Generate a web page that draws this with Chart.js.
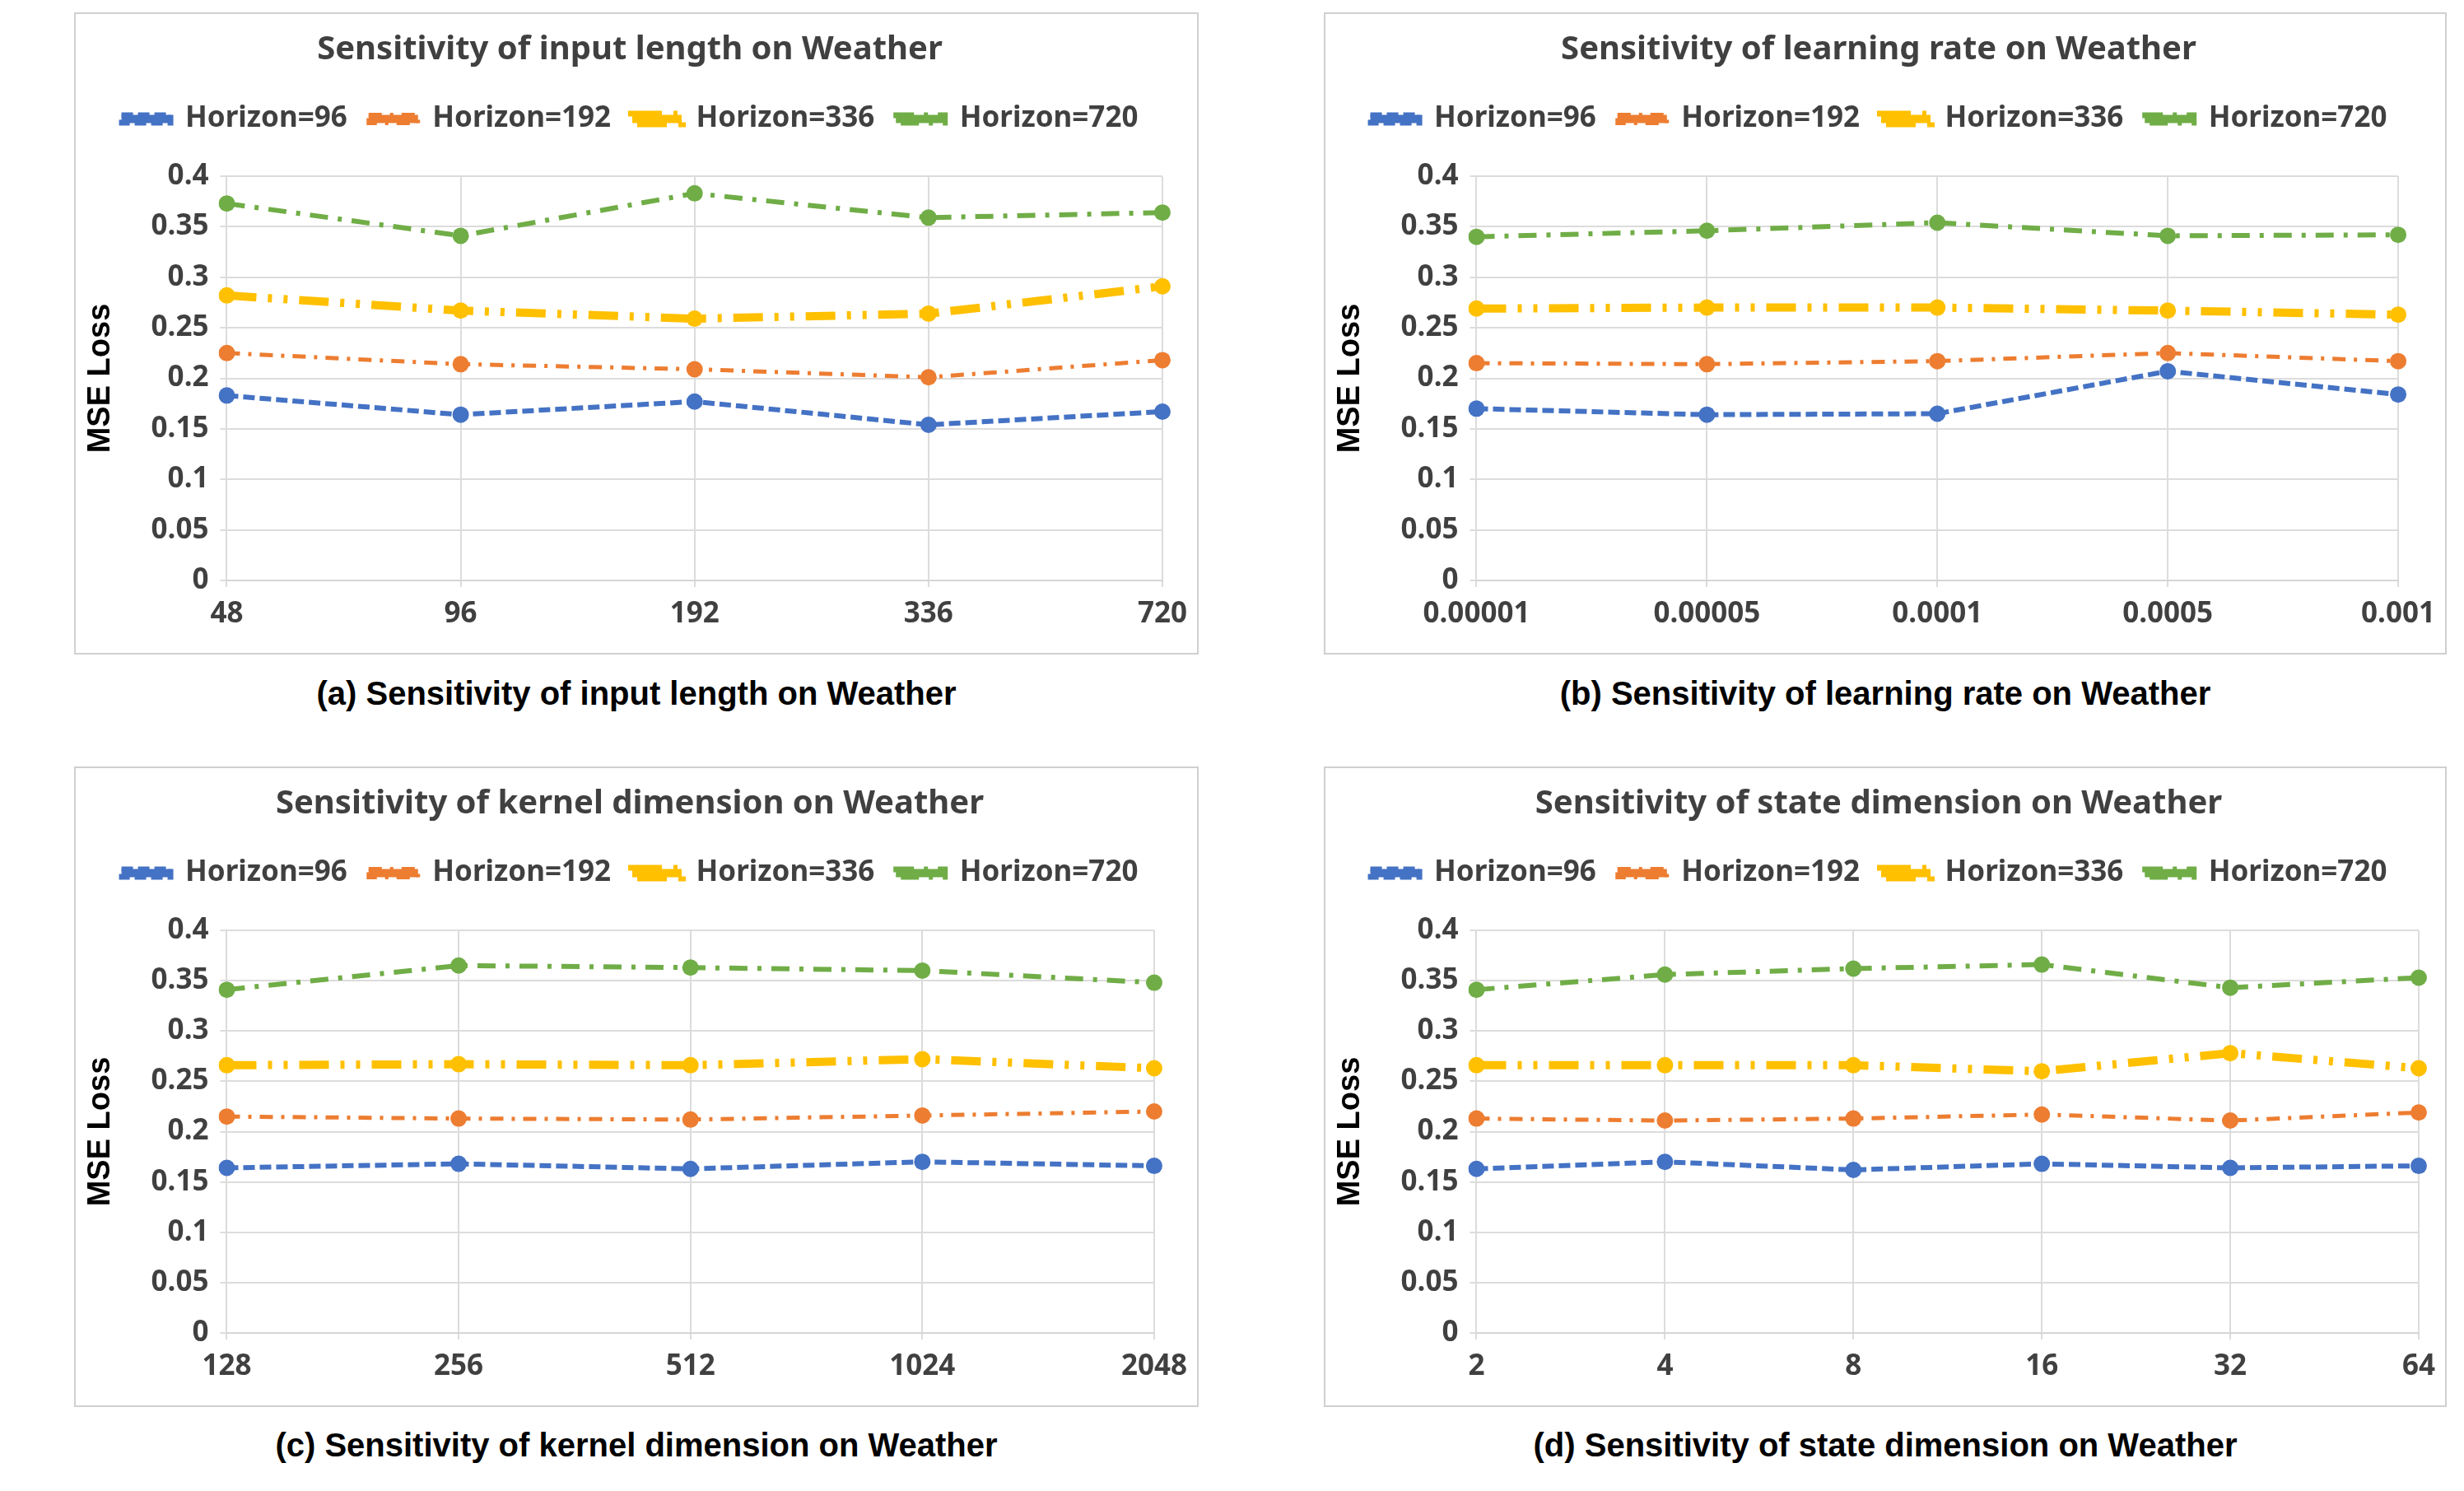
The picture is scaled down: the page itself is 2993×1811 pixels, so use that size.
<!DOCTYPE html>
<html><head><meta charset="utf-8">
<script src="https://cdn.jsdelivr.net/npm/chart.js@4.4.0/dist/chart.umd.min.js"></script>
<style>
body{margin:0;background:#fff;width:2993px;height:1811px;position:relative;overflow:hidden}
.box{position:absolute;border:2px solid #d0d0d0;box-sizing:border-box}
.cap{position:absolute;font:bold 40px "Liberation Sans",Arial,sans-serif;color:#000;text-align:center}
</style></head><body>
<div class="box" style="left:90px;top:15px;width:1366px;height:780px"><canvas id="c0"></canvas></div>
<div class="box" style="left:1608px;top:15px;width:1364px;height:780px"><canvas id="c1"></canvas></div>
<div class="box" style="left:90px;top:931px;width:1366px;height:778px"><canvas id="c2"></canvas></div>
<div class="box" style="left:1608px;top:931px;width:1364px;height:778px"><canvas id="c3"></canvas></div>
<div class="cap" style="left:90px;top:820px;width:1366px">(a) Sensitivity of input length on Weather</div>
<div class="cap" style="left:1608px;top:820px;width:1364px">(b) Sensitivity of learning rate on Weather</div>
<div class="cap" style="left:90px;top:1733px;width:1366px">(c) Sensitivity of kernel dimension on Weather</div>
<div class="cap" style="left:1608px;top:1733px;width:1364px">(d) Sensitivity of state dimension on Weather</div>
<script>
const seriesNames=["Horizon=96","Horizon=192","Horizon=336","Horizon=720"];
const titles=["Sensitivity of input length on Weather","Sensitivity of learning rate on Weather","Sensitivity of kernel dimension on Weather","Sensitivity of state dimension on Weather"];
const catsA=["48","96","192","336","720"];
const catsB=["0.00001","0.00005","0.0001","0.0005","0.001"];
const catsC=["128","256","512","1024","2048"];
const catsD=["2","4","8","16","32","64"];
const a96=[0.183,0.164,0.177,0.154,0.167], a192=[0.225,0.214,0.209,0.201,0.218], a336=[0.282,0.267,0.259,0.264,0.291], a720=[0.373,0.341,0.383,0.359,0.364];
const b96=[0.170,0.164,0.165,0.207,0.184], b192=[0.215,0.214,0.217,0.225,0.217], b336=[0.269,0.270,0.270,0.267,0.263], b720=[0.340,0.346,0.354,0.341,0.342];
const c96=[0.164,0.168,0.163,0.170,0.166], c192=[0.215,0.213,0.212,0.216,0.220], c336=[0.266,0.267,0.266,0.272,0.263], c720=[0.341,0.365,0.363,0.360,0.348];
const d96=[0.163,0.170,0.162,0.168,0.164,0.166], d192=[0.213,0.211,0.213,0.217,0.211,0.219], d336=[0.266,0.266,0.266,0.260,0.278,0.263], d720=[0.341,0.356,0.362,0.366,0.343,0.353];
const panels=[[catsA,[a96,a192,a336,a720]],[catsB,[b96,b192,b336,b720]],[catsC,[c96,c192,c336,c720]],[catsD,[d96,d192,d336,d720]]];
const colors=["#4472C4","#ED7D31","#FFC000","#70AD47"];
const dashes=[[14,6],[16,10,4,10],[36,14,5,14,5,14],[22,12,5,12]];
const widths=[6,5,10,6];
const F='"Noto Sans","Open Sans",sans-serif';
Chart.defaults.devicePixelRatio=1;
const legendGap={id:'legendGap',beforeInit(chart){const fit=chart.legend.fit;chart.legend.fit=function(){fit.bind(chart.legend)();this.height+=42;};}};
panels.forEach((p,i)=>{
  const cv=document.getElementById('c'+i);
  const box=cv.parentElement;
  cv.width=box.clientWidth; cv.height=box.clientHeight;
  new Chart(cv,{type:'line',plugins:[legendGap],
    data:{labels:p[0],datasets:p[1].map((d,k)=>({label:seriesNames[k],data:d,borderColor:colors[k],backgroundColor:colors[k],borderWidth:widths[k],borderDash:dashes[k],pointRadius:10,pointBorderWidth:0,tension:0}))},
    options:{responsive:false,animation:false,
      layout:{padding:{left:4,right:20,top:10,bottom:14}},
      plugins:{title:{display:true,text:titles[i],color:'#404040',font:{family:F,size:40,weight:'bold'},padding:{top:10,bottom:16}},
        legend:{labels:{color:'#404040',font:{family:F,size:35,weight:'bold'},boxWidth:60,boxHeight:10,padding:26}},
        tooltip:{enabled:false}},
      scales:{x:{offset:false,grid:{color:'#dcdcdc',lineWidth:2},border:{color:'#d0d0d0'},ticks:{color:'#404040',font:{family:F,size:35,weight:'bold'},padding:12,maxRotation:0}},
        y:{min:0,max:0.4,grid:{color:'#dcdcdc',lineWidth:2},border:{display:false},
          ticks:{stepSize:0.05,color:'#404040',font:{family:F,size:35,weight:'bold'},padding:14,callback:v=>String(Math.round(v*100)/100)},
          title:{display:true,text:'MSE Loss',color:'#000',font:{family:'"Liberation Sans",Arial',size:38,weight:'bold'},padding:{bottom:24}}}}}
  });
});
</script></body></html>
